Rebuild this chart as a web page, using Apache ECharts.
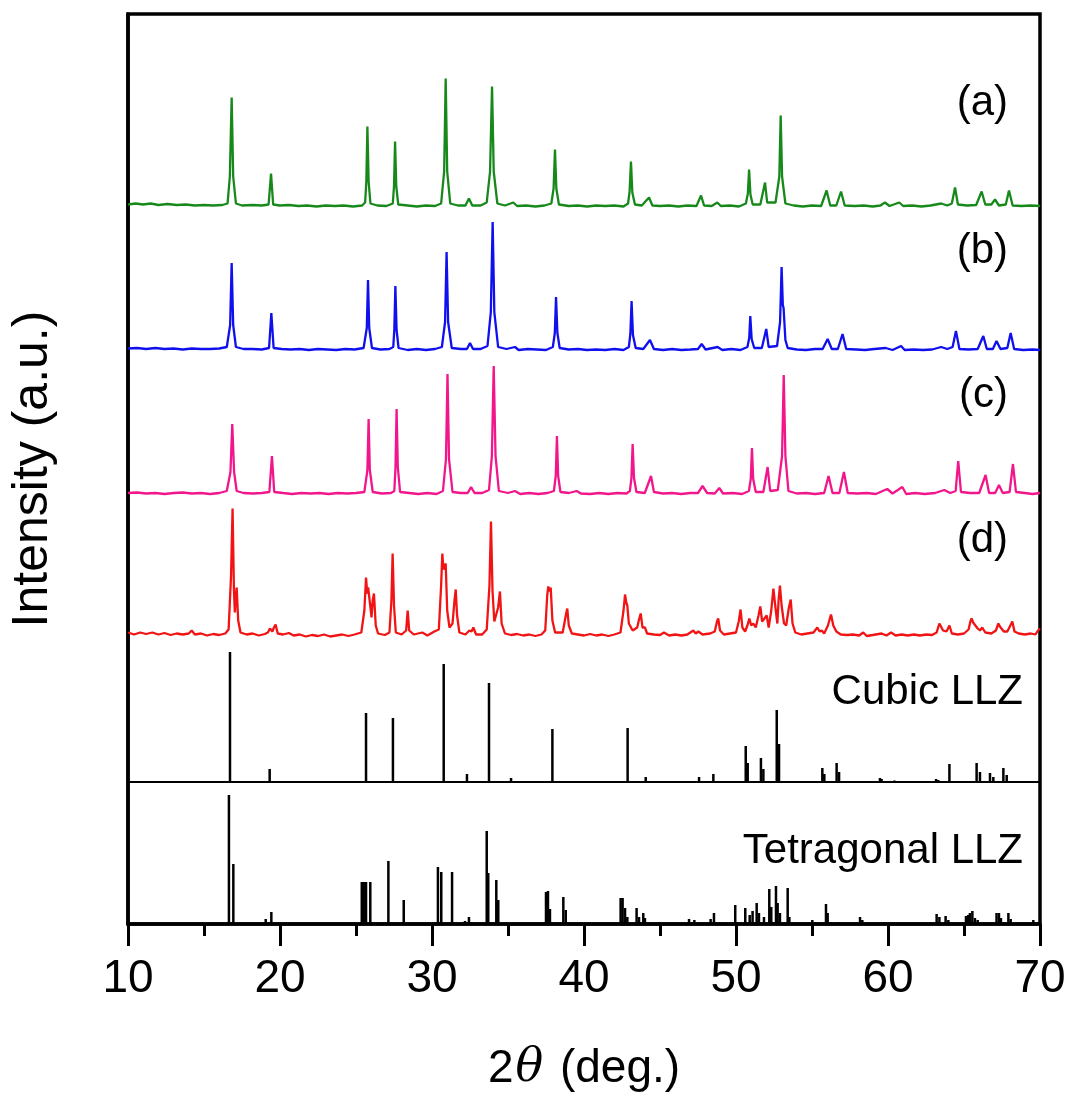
<!DOCTYPE html>
<html>
<head>
<meta charset="utf-8">
<script src="https://cdn.jsdelivr.net/npm/echarts@6/dist/echarts.min.js"></script>
<style>html,body{margin:0;padding:0;background:#fff}#c{width:1074px;height:1102px}</style>
</head>
<body>
<div id="c"></div>
<script>
// x axis (2θ, deg.)
const xMin = 10, xMax = 70, xStep = 10;

// Sample labels
const sampleLabels = ['(a)', '(b)', '(c)', '(d)'];
const refLabels = ['Cubic LLZ', 'Tetragonal LLZ'];

// Vertical offsets of the stacked patterns (a.u.)
const offsets = [717.5, 574, 430, 288.5];

// Pattern (a) [2θ, intensity]
const specA = [[10,2],[10.5,3],[11,2],[11.5,3],[12,1.5],[12.6,2.5],[13.2,1.5],[13.8,2],[14.4,1],[15,1.5],[15.6,1],[16.2,1.5],[16.55,3],[16.7,30],[16.82,109],[16.92,30],[17.1,3],[17.5,1],[18.2,1.5],[18.8,1],[19.25,2],[19.41,33],[19.55,2],[20,1],[20.6,1.5],[21.2,0.5],[21.8,1],[22.4,0],[23,1],[23.6,0.5],[24.2,1],[24.8,0],[25.4,1],[25.6,4],[25.68,25],[25.75,80],[25.83,25],[25.95,3],[26.4,1],[27,0.5],[27.42,3],[27.5,20],[27.57,65],[27.65,20],[27.78,2],[28.4,1],[29,0],[29.6,1],[30.2,0.5],[30.6,3],[30.8,35],[30.9,128],[31.0,35],[31.2,3],[31.7,1],[32.2,1],[32.43,8],[32.65,1],[33.2,1],[33.6,4],[33.82,35],[33.95,120],[34.06,35],[34.3,3],[34.8,1],[35.35,4],[35.6,0.5],[36.2,1],[36.8,0],[37.4,1],[37.85,3],[38.0,18],[38.09,57],[38.18,18],[38.35,2],[39,0.5],[39.6,1],[40.2,0],[40.8,1],[41.4,0.5],[42,1],[42.6,0],[42.9,3],[43.0,15],[43.09,45],[43.18,14],[43.35,2],[43.8,1],[44.28,9],[44.5,1],[45,0.5],[45.6,1],[46.2,0],[46.8,1],[47.4,0.5],[47.7,11],[47.9,1],[48.4,0.5],[48.77,4],[49.0,0.5],[49.6,1],[50.2,0],[50.65,3],[50.78,13],[50.86,37],[50.95,12],[51.1,2],[51.6,2],[51.91,24],[52.05,4],[52.6,4],[52.85,30],[52.94,91],[53.03,30],[53.25,3],[53.8,1],[54.4,0],[55,1],[55.6,0.5],[55.96,16],[56.2,1],[56.6,1],[56.91,15],[57.15,1],[57.8,0.5],[58.4,1],[59,0],[59.5,1],[59.8,4],[60.1,0.5],[60.74,4],[61,0.5],[61.6,1],[62.2,0],[62.8,1],[63.5,3],[63.9,1],[64.2,3],[64.41,19],[64.6,2],[65.2,1],[65.8,1.5],[66.16,15],[66.4,2],[66.8,2],[67.04,7],[67.3,1],[67.75,2],[67.96,16],[68.2,1],[68.8,0.5],[69.4,1],[70,0.5]];

// Pattern (b)
const specB = [[10,1.5],[10.6,2],[11.2,1],[11.8,2],[12.4,1],[13,1.5],[13.6,0.5],[14.2,1.5],[14.8,1],[15.4,1],[16,1.5],[16.5,3],[16.72,25],[16.82,87],[16.92,25],[17.1,3],[17.6,1],[18.2,1],[18.8,0.5],[19.28,2],[19.43,37],[19.58,2],[20.1,1],[20.7,0.5],[21.3,1],[21.9,0],[22.5,1],[23.1,0.5],[23.7,0],[24.3,1],[24.9,0.5],[25.5,2],[25.71,22],[25.79,70],[25.87,22],[26.05,2],[26.6,0.5],[27.2,1],[27.45,3],[27.52,20],[27.59,64],[27.67,20],[27.8,2],[28.4,0],[29,1],[29.6,0],[30.2,1],[30.65,3],[30.86,28],[30.96,98],[31.06,28],[31.3,2],[31.9,1],[32.3,1],[32.5,7],[32.7,1],[33.2,1],[33.65,4],[33.87,38],[33.99,128],[34.1,38],[34.35,3],[34.9,1],[35.46,3],[35.7,0],[36.3,1],[36.9,0.5],[37.5,0],[37.95,3],[38.08,17],[38.16,53],[38.25,17],[38.4,2],[39,0.5],[39.6,1],[40.2,0],[40.8,0.5],[41.4,0],[42,1],[42.6,0],[42.95,3],[43.05,16],[43.13,49],[43.22,15],[43.4,2],[43.9,1],[44.34,10],[44.6,1],[45.2,0],[45.8,1],[46.4,0],[47,0.5],[47.5,1],[47.74,6],[48,0.5],[48.79,3],[49.1,0],[49.7,1],[50.3,0],[50.75,3],[50.87,12],[50.94,34],[51.03,11],[51.2,2],[51.7,2],[51.99,21],[52.15,3],[52.7,4],[52.9,28],[53.0,83],[53.08,45],[53.13,42],[53.25,10],[53.4,2],[54,0.5],[54.6,0],[55.2,1],[55.7,1],[56.03,11],[56.3,1],[56.7,1],[57.01,16],[57.25,1],[57.9,0.5],[58.5,0],[59.1,1],[59.85,2],[60.3,0],[60.86,4],[61.1,0],[61.7,0.5],[62.3,0],[62.9,0.5],[63.5,3],[63.9,1],[64.25,3],[64.47,19],[64.7,1],[65.3,0.5],[65.9,1],[66.27,14],[66.5,1],[66.9,1],[67.14,9],[67.4,1],[67.85,2],[68.07,17],[68.3,1],[68.9,0],[69.5,0.5],[70,0]];

// Pattern (c)
const specC = [[10,1],[10.6,1.5],[11.2,0.5],[11.8,1],[12.4,0],[13,1],[13.6,1.5],[14.2,0.5],[14.8,1],[15.4,0],[16,1],[16.5,3],[16.74,22],[16.86,70],[16.98,22],[17.15,3],[17.6,1],[18.2,0.5],[18.8,1],[19.3,2],[19.47,38],[19.62,2],[20.2,1],[20.8,0],[21.4,1],[22,0.5],[22.6,1],[23.2,0],[23.8,1],[24.4,0.5],[25,1],[25.55,2],[25.75,24],[25.83,75],[25.91,24],[26.1,2],[26.7,0.5],[27.3,1],[27.52,3],[27.6,27],[27.67,85],[27.75,27],[27.9,2],[28.5,1],[29.1,0],[29.7,1],[30.3,0],[30.72,3],[30.92,35],[31.02,120],[31.12,35],[31.35,2],[31.9,1],[32.35,1],[32.57,7],[32.8,1],[33.3,1],[33.75,4],[33.94,38],[34.06,128],[34.18,38],[34.4,3],[35,1],[35.46,3],[35.8,0],[36.4,1],[37,0],[37.6,1],[38.02,3],[38.14,18],[38.22,58],[38.3,18],[38.45,2],[39,1],[39.52,3],[39.8,0.5],[40.4,0],[41,1],[41.6,0],[42.2,1],[42.8,0.5],[43.02,3],[43.12,16],[43.2,50],[43.29,16],[43.45,2],[44,1],[44.41,18],[44.6,2],[45.2,0.5],[45.8,1],[46.4,0],[47,1],[47.5,1],[47.8,8],[48.1,1],[48.6,0.5],[48.9,6],[49.15,0.5],[49.8,1],[50.4,0],[50.85,3],[50.97,15],[51.05,46],[51.13,15],[51.3,2],[51.8,2],[52.08,27],[52.25,3],[52.75,4],[53.03,38],[53.14,119],[53.25,38],[53.45,3],[54,0.5],[54.6,1],[55.2,0],[55.8,1],[56.09,18],[56.35,1],[56.8,1],[57.1,22],[57.35,1],[58,0.5],[58.6,1],[59.2,0],[59.95,5],[60.3,0.5],[60.94,7],[61.2,0],[61.8,1],[62.4,0],[63.1,1],[63.7,4],[64.1,1],[64.45,3],[64.62,33],[64.8,2],[65.4,1],[66,1],[66.42,19],[66.65,1],[67.05,1],[67.3,9],[67.55,1],[68,2],[68.22,30],[68.42,2],[69,1],[69.5,0],[70,1]];

// Pattern (d)
const specD = [[10,3],[10.4,1],[10.8,3],[11.2,1.5],[11.6,3],[12,1],[12.4,2.5],[12.8,0.5],[13.2,2],[13.6,1],[14,2],[14.19,5],[14.4,1],[14.8,2],[15.2,0],[15.6,1.5],[16,0.5],[16.4,2],[16.62,6],[16.78,60],[16.88,127],[16.97,45],[17.03,23],[17.1,40],[17.15,48],[17.25,15],[17.4,3],[17.8,1],[18.2,2],[18.6,0],[19,1.5],[19.2,3],[19.34,7],[19.5,4],[19.6,8],[19.71,11],[19.85,2],[20.2,1],[20.59,2.5],[20.9,0],[21.3,1],[21.7,-1],[22.1,0.5],[22.5,-0.5],[22.9,1],[23.3,-1],[23.7,0],[24.1,1],[24.5,-0.5],[24.9,1],[25.35,3],[25.55,25],[25.66,58],[25.74,42],[25.8,48],[25.86,50],[25.95,28],[26.02,18],[26.1,35],[26.18,42],[26.3,10],[26.45,2],[26.9,0.5],[27.2,3],[27.33,35],[27.41,82],[27.5,30],[27.62,3],[28.0,1],[28.3,5],[28.4,25],[28.5,5],[28.8,1],[29.36,3],[29.7,0],[30.15,4],[30.45,6],[30.6,50],[30.68,82],[30.75,66],[30.79,65],[30.9,72],[31.0,25],[31.15,8],[31.35,12],[31.48,35],[31.56,46],[31.65,20],[31.8,3],[32.2,1],[32.46,5],[32.6,4],[32.72,8],[32.9,1],[33.3,1],[33.6,6],[33.78,50],[33.88,114],[33.98,45],[34.1,14],[34.2,12],[34.35,28],[34.47,44],[34.58,12],[34.8,2],[35.2,0.5],[35.6,1.5],[36,0],[36.4,1],[36.8,-0.5],[37.2,1],[37.45,5],[37.58,40],[37.65,49],[37.73,44],[37.81,48],[37.92,15],[38.1,3],[38.6,3],[38.8,20],[38.9,27],[39.0,10],[39.2,2],[39.6,1],[40,0],[40.4,1.5],[40.8,0],[41.2,1],[41.6,-0.5],[42,1],[42.4,3],[42.6,25],[42.7,41],[42.78,33],[42.85,30],[42.95,12],[43.2,5],[43.5,8],[43.62,16],[43.73,22],[43.85,8],[44.01,8],[44.15,2],[44.6,1],[45,0.5],[45.26,3],[45.6,0],[46,1],[46.4,0],[46.8,1],[47.19,5],[47.35,2],[47.52,4],[47.8,1],[48.3,2],[48.6,4],[48.75,14],[48.83,17],[48.95,5],[49.2,1],[49.6,2],[50,3],[50.18,14],[50.3,26],[50.42,8],[50.6,4],[50.75,10],[50.88,17],[51.0,10],[51.14,12],[51.3,8],[51.48,20],[51.6,29],[51.72,14],[51.85,12],[52.02,20],[52.15,8],[52.32,25],[52.46,47],[52.58,30],[52.72,12],[52.8,35],[52.89,50],[53.0,30],[53.16,12],[53.3,10],[53.48,28],[53.6,36],[53.72,12],[53.9,3],[54.3,1],[54.7,2],[55.1,3],[55.35,8],[55.5,4],[55.64,5],[55.8,2],[56.05,10],[56.25,21],[56.4,10],[56.6,4],[56.9,1],[57.3,0.5],[57.7,1],[58.1,0],[58.37,3],[58.6,-0.5],[59,0.5],[59.58,2],[59.9,0],[60.2,3],[60.5,0],[60.9,1],[61.3,0],[61.7,1],[62.1,0],[62.5,1],[62.9,0.5],[63.2,3],[63.38,12],[63.49,13],[63.62,5],[63.85,4],[64.04,10],[64.2,2],[64.6,1],[65,2],[65.3,6],[65.42,14],[65.5,17],[65.6,13],[65.72,15],[65.9,7],[66.05,5],[66.2,8],[66.4,3],[66.8,2],[67.1,5],[67.26,12],[67.36,9],[67.48,11],[67.62,4],[67.85,4],[68.05,10],[68.18,14],[68.32,4],[68.6,2],[69,1],[69.4,2],[69.7,1],[69.87,5],[70,7]];

// Reference patterns: [2θ, intensity]
const cubicRef = [[16.71,130],[19.32,13],[25.66,69],[27.43,64],[30.77,118],[32.30,8],[33.75,99],[35.20,4],[37.92,53],[42.87,54],[44.06,5],[47.57,5],[48.51,8],[50.64,36],[50.77,19],[51.64,24],[51.80,13],[52.68,72],[52.83,38],[55.68,14],[55.81,8],[56.62,19],[56.78,10],[59.47,4],[59.58,3],[60.42,1.5],[63.16,3],[63.31,2],[64.04,18],[65.83,19],[66.05,10],[66.71,9],[66.93,5],[67.59,14],[67.81,7],[68.49,1]];

const tetraRef = [[16.64,129],[16.93,60],[19.06,5],[19.43,12],[25.38,42],[25.51,42],[25.66,42],[25.94,42],[27.13,63],[28.14,24],[30.39,57],[30.61,52],[31.32,52],[32.17,3],[32.43,7],[32.54,2],[33.60,93],[33.70,51],[34.23,44],[34.36,24],[34.85,1],[37.50,32],[37.63,33],[37.76,15],[38.64,27],[38.80,14],[42.41,26],[42.54,26],[42.70,16],[42.85,7],[43.46,16],[43.62,7],[43.90,11],[44.01,6],[45.00,1.5],[46.91,5],[47.26,4],[48.33,5],[48.55,11],[49.95,19],[50.61,16],[50.90,9],[51.09,13],[51.36,21],[51.51,11],[51.84,7],[52.19,35],[52.32,17],[52.63,38],[52.74,21],[52.89,11],[53.40,36],[53.51,7],[55.02,4],[55.24,2],[55.92,20],[56.03,11],[56.23,2],[56.73,1.5],[58.16,7],[58.31,4],[59.69,1.5],[59.95,1.5],[63.20,10],[63.38,7],[63.79,8],[63.97,4],[65.13,8],[65.28,9],[65.39,11],[65.55,13],[65.72,6],[65.90,4],[67.14,11],[67.30,11],[67.43,6],[67.92,11],[68.07,5],[69.56,4]];

const spectra = [specA, specB, specC, specD];
const colors = ['#17891b', '#1010ee', '#f2168c', '#f21414'];
const FONT = "'Liberation Sans', Arial, Helvetica, sans-serif";

const chart = echarts.init(document.getElementById('c'), null, {renderer: 'canvas'});

const L = 128, R = 34, T = 14, B = 178, DIV = 320;

const series = [];
spectra.forEach((s, i) => {
  series.push({
    type: 'line', xAxisIndex: 0, yAxisIndex: 0,
    data: s.map(p => [p[0], p[1] + offsets[i]]),
    showSymbol: false, symbol: 'none',
    lineStyle: {color: colors[i], width: 2.3},
    z: 3, silent: true
  });
});
series.push({
  type: 'bar', xAxisIndex: 1, yAxisIndex: 1, data: cubicRef,
  barWidth: 2.5, itemStyle: {color: '#000'}, silent: true
});
series.push({
  type: 'bar', xAxisIndex: 0, yAxisIndex: 0, data: tetraRef,
  barWidth: 2.5, itemStyle: {color: '#000'}, silent: true
});

const gText = [];
const labYs = [106, 254, 398, 543];
sampleLabels.forEach((t, i) => {
  gText.push({type: 'text', right: 66, top: labYs[i] - 24,
    style: {text: t, font: '42px ' + FONT, fill: '#000'}});
});
gText.push({type: 'text', right: 51, top: 671, style: {text: refLabels[0], font: '42px ' + FONT, fill: '#000'}});
gText.push({type: 'text', right: 51, top: 830, style: {text: refLabels[1], font: '42px ' + FONT, fill: '#000'}});

chart.setOption({
  animation: false,
  backgroundColor: '#fff',
  grid: [
    {left: L, right: R, top: T, bottom: B, show: true, borderColor: '#000', borderWidth: 3.5, backgroundColor: 'transparent', containLabel: false, outerBoundsMode: 'none'},
    {left: L, right: R, top: T, bottom: DIV, show: false, containLabel: false, outerBoundsMode: 'none'}
  ],
  xAxis: [
    {type: 'value', gridIndex: 0, min: xMin, max: xMax, interval: xStep,
     name: '{n|2}{t|θ}{n| (deg.)}', nameLocation: 'middle', nameGap: 122,
     nameTextStyle: {rich: {n: {fontSize: 46, fontFamily: FONT, color: '#000'},
                            t: {fontSize: 46, fontFamily: "'DejaVu Serif', 'Liberation Serif', serif", fontStyle: 'italic', color: '#000', padding: [0, 4, 0, 2]}}},
     axisLine: {show: true, lineStyle: {color: '#000', width: 3.5}},
     axisTick: {show: true, inside: false, length: 22, lineStyle: {color: '#000', width: 3}},
     minorTick: {show: true, splitNumber: 2, length: 12, lineStyle: {color: '#000', width: 3}},
     axisLabel: {fontSize: 46, fontFamily: FONT, color: '#000', margin: 32},
     splitLine: {show: false}},
    {type: 'value', gridIndex: 1, min: xMin, max: xMax, interval: xStep,
     axisLine: {show: true, lineStyle: {color: '#000', width: 2}},
     axisTick: {show: false}, axisLabel: {show: false}, splitLine: {show: false}}
  ],
  yAxis: [
    {type: 'value', gridIndex: 0, min: 0, max: 910,
     name: 'Intensity (a.u.)', nameLocation: 'middle', nameGap: 70,
     nameTextStyle: {fontSize: 50, fontFamily: FONT, color: '#000'},
     axisLine: {show: true, lineStyle: {color: '#000', width: 3.5}},
     axisTick: {show: false}, axisLabel: {show: false}, splitLine: {show: false}},
    {type: 'value', gridIndex: 1, min: 0, max: 768, show: false, splitLine: {show: false}}
  ],
  graphic: gText,
  series: series
});
</script>
</body>
</html>
